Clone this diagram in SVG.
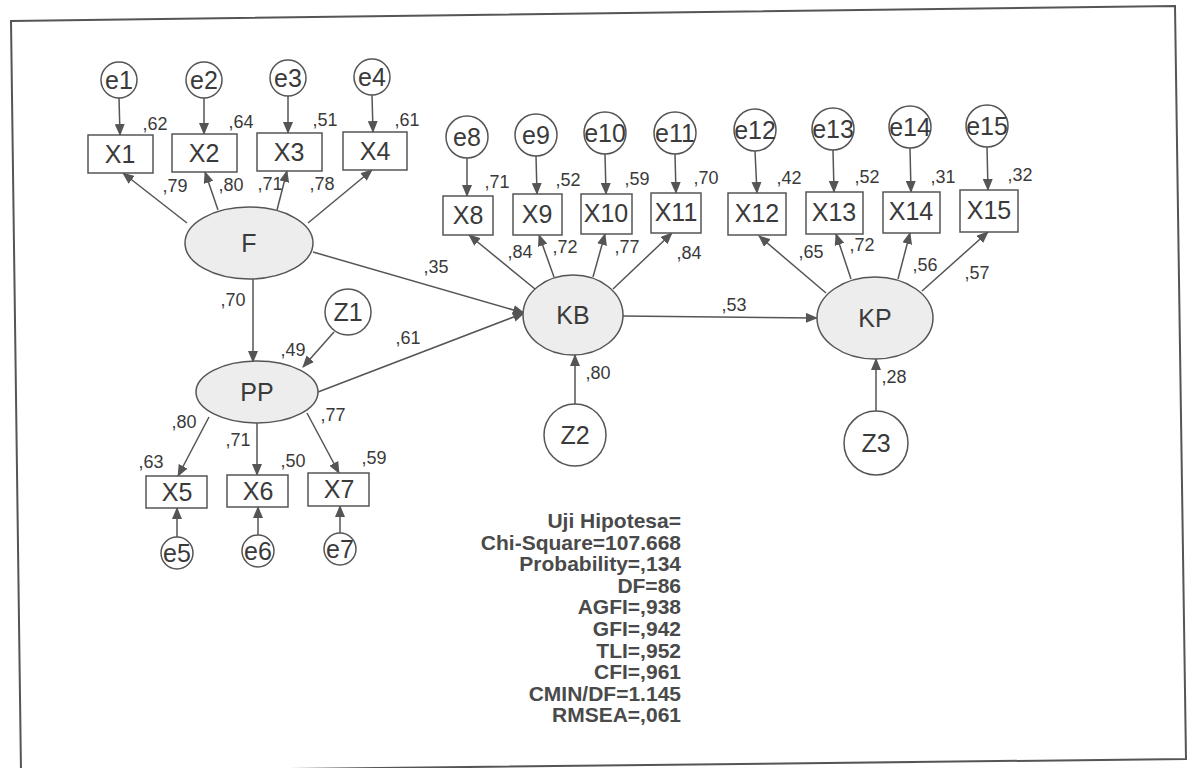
<svg xmlns="http://www.w3.org/2000/svg" width="1187" height="768" viewBox="0 0 1187 768">
<style>
.obs{fill:#fff;stroke:#555;stroke-width:1.5}
.lat{fill:#ededed;stroke:#555;stroke-width:1.5}
.err{fill:#fff;stroke:#555;stroke-width:1.5}
.lbl{font-family:"Liberation Sans",Arial,sans-serif;fill:#3a3a3a;text-anchor:middle}
.big{font-size:25px}
.val{font-family:"Liberation Sans",Arial,sans-serif;font-size:18px;fill:#3a3a3a;text-anchor:middle}
.stat{font-family:"Liberation Sans",Arial,sans-serif;font-size:21px;font-weight:bold;fill:#4a4a4a;text-anchor:end}
.c{stroke:#555;stroke-width:1.5;fill:none;marker-end:url(#ah)}
</style>
<defs>
<marker id="ah" markerUnits="userSpaceOnUse" markerWidth="12" markerHeight="10" refX="11" refY="5" orient="auto">
<path d="M0,0 L12,5 L0,10 Z" fill="#555"/>
</marker>
</defs>
<rect width="1187" height="768" fill="#fff"/>
<polygon points="11,21 1175,6 1186,759 21,772" fill="none" stroke="#555" stroke-width="2"/>

<g id="connectors">
<line class="c" x1="119" y1="98" x2="120" y2="135"/>
<line class="c" x1="204" y1="98" x2="204" y2="134"/>
<line class="c" x1="288" y1="96" x2="288" y2="133"/>
<line class="c" x1="372" y1="95" x2="373" y2="132"/>
<line class="c" x1="187" y1="223" x2="123" y2="173"/>
<line class="c" x1="218" y1="210" x2="205" y2="172"/>
<line class="c" x1="277" y1="210" x2="287" y2="171"/>
<line class="c" x1="308" y1="223" x2="372" y2="170"/>
<line class="c" x1="253" y1="279" x2="253" y2="362"/>
<line class="c" x1="334" y1="332" x2="303" y2="367"/>
<line class="c" x1="313" y1="252" x2="524" y2="313"/>
<line class="c" x1="318" y1="392" x2="524" y2="313"/>
<line class="c" x1="209" y1="417" x2="178" y2="476"/>
<line class="c" x1="257" y1="423" x2="257" y2="475"/>
<line class="c" x1="307" y1="413" x2="339" y2="473"/>
<line class="c" x1="177" y1="537" x2="177" y2="508"/>
<line class="c" x1="258" y1="535" x2="258" y2="507"/>
<line class="c" x1="340" y1="533" x2="340" y2="506"/>
<line class="c" x1="467" y1="158" x2="467" y2="196"/>
<line class="c" x1="536" y1="156" x2="537" y2="194"/>
<line class="c" x1="605" y1="154" x2="606" y2="194"/>
<line class="c" x1="675" y1="154" x2="676" y2="193"/>
<line class="c" x1="535" y1="289" x2="469" y2="235"/>
<line class="c" x1="554" y1="277" x2="539" y2="235"/>
<line class="c" x1="593" y1="277" x2="605" y2="234"/>
<line class="c" x1="613" y1="289" x2="672" y2="233"/>
<line class="c" x1="755" y1="151" x2="757" y2="193"/>
<line class="c" x1="833" y1="150" x2="834" y2="192"/>
<line class="c" x1="910" y1="148" x2="911" y2="192"/>
<line class="c" x1="987" y1="147" x2="988" y2="190"/>
<line class="c" x1="826" y1="293" x2="759" y2="236"/>
<line class="c" x1="851" y1="279" x2="836" y2="234"/>
<line class="c" x1="898" y1="279" x2="910" y2="233"/>
<line class="c" x1="922" y1="291" x2="988" y2="232"/>
<line class="c" x1="623" y1="316" x2="817" y2="318"/>
<line class="c" x1="575" y1="404" x2="575" y2="355"/>
<line class="c" x1="876" y1="411" x2="876" y2="359"/>
</g>

<g id="e1"><circle class="err" cx="119" cy="80" r="18"/><text class="lbl big" x="119" y="89">e1</text></g>
<g id="e2"><circle class="err" cx="204" cy="80" r="18"/><text class="lbl big" x="204" y="89">e2</text></g>
<g id="e3"><circle class="err" cx="288" cy="78" r="18"/><text class="lbl big" x="288" y="87">e3</text></g>
<g id="e4"><circle class="err" cx="372" cy="77" r="18"/><text class="lbl big" x="372" y="86">e4</text></g>

<g id="X1"><rect class="obs" x="88" y="135" width="65" height="38"/><text class="lbl big" x="120" y="163">X1</text></g>
<g id="X2"><rect class="obs" x="172" y="134" width="65" height="38"/><text class="lbl big" x="204" y="162">X2</text></g>
<g id="X3"><rect class="obs" x="257" y="133" width="65" height="38"/><text class="lbl big" x="289" y="161">X3</text></g>
<g id="X4"><rect class="obs" x="343" y="132" width="64" height="38"/><text class="lbl big" x="375" y="160">X4</text></g>

<g id="F"><ellipse class="lat" cx="249" cy="243" rx="64" ry="36"/><text class="lbl big" x="249" y="252">F</text></g>
<g id="PP"><ellipse class="lat" cx="257" cy="392" rx="61" ry="31"/><text class="lbl big" x="257" y="401">PP</text></g>
<g id="Z1"><circle class="err" cx="348" cy="312" r="23"/><text class="lbl big" x="348" y="321">Z1</text></g>

<g id="X5"><rect class="obs" x="146" y="476" width="61" height="32"/><text class="lbl big" x="177" y="501">X5</text></g>
<g id="X6"><rect class="obs" x="227" y="475" width="61" height="32"/><text class="lbl big" x="258" y="500">X6</text></g>
<g id="X7"><rect class="obs" x="308" y="473" width="61" height="33"/><text class="lbl big" x="339" y="498">X7</text></g>
<g id="e5"><circle class="err" cx="177" cy="553" r="16"/><text class="lbl big" x="177" y="562">e5</text></g>
<g id="e6"><circle class="err" cx="258" cy="551" r="16"/><text class="lbl big" x="258" y="560">e6</text></g>
<g id="e7"><circle class="err" cx="340" cy="549" r="16"/><text class="lbl big" x="340" y="558">e7</text></g>

<g id="e8"><circle class="err" cx="467" cy="137" r="21"/><text class="lbl big" x="467" y="146">e8</text></g>
<g id="e9"><circle class="err" cx="536" cy="135" r="21"/><text class="lbl big" x="536" y="144">e9</text></g>
<g id="e10"><circle class="err" cx="605" cy="133" r="21"/><text class="lbl big" x="605" y="142">e10</text></g>
<g id="e11"><circle class="err" cx="675" cy="133" r="21"/><text class="lbl big" x="675" y="142">e11</text></g>
<g id="e12"><circle class="err" cx="755" cy="130" r="21"/><text class="lbl big" x="755" y="139">e12</text></g>
<g id="e13"><circle class="err" cx="833" cy="129" r="21"/><text class="lbl big" x="833" y="138">e13</text></g>
<g id="e14"><circle class="err" cx="910" cy="127" r="21"/><text class="lbl big" x="910" y="136">e14</text></g>
<g id="e15"><circle class="err" cx="987" cy="126" r="21"/><text class="lbl big" x="987" y="135">e15</text></g>

<g id="X8"><rect class="obs" x="443" y="196" width="50" height="39"/><text class="lbl big" x="468" y="224">X8</text></g>
<g id="X9"><rect class="obs" x="513" y="194" width="49" height="41"/><text class="lbl big" x="537" y="223">X9</text></g>
<g id="X10"><rect class="obs" x="581" y="194" width="51" height="40"/><text class="lbl big" x="606" y="222">X10</text></g>
<g id="X11"><rect class="obs" x="651" y="193" width="50" height="40"/><text class="lbl big" x="676" y="221">X11</text></g>
<g id="X12"><rect class="obs" x="728" y="193" width="58" height="42"/><text class="lbl big" x="757" y="222">X12</text></g>
<g id="X13"><rect class="obs" x="806" y="192" width="57" height="42"/><text class="lbl big" x="834" y="221">X13</text></g>
<g id="X14"><rect class="obs" x="883" y="192" width="57" height="41"/><text class="lbl big" x="911" y="220">X14</text></g>
<g id="X15"><rect class="obs" x="960" y="190" width="58" height="42"/><text class="lbl big" x="989" y="219">X15</text></g>

<g id="KB"><ellipse class="lat" cx="573" cy="315" rx="50" ry="40"/><text class="lbl big" x="573" y="324">KB</text></g>
<g id="KP"><ellipse class="lat" cx="875" cy="318" rx="58" ry="41"/><text class="lbl big" x="875" y="327">KP</text></g>
<g id="Z2"><circle class="err" cx="575" cy="435" r="31"/><text class="lbl big" x="575" y="444">Z2</text></g>
<g id="Z3"><circle class="err" cx="876" cy="443" r="32"/><text class="lbl big" x="876" y="452">Z3</text></g>

<g id="values">
<text class="val" x="155" y="130">,62</text>
<text class="val" x="241" y="128">,64</text>
<text class="val" x="325" y="126">,51</text>
<text class="val" x="407" y="126">,61</text>
<text class="val" x="175" y="192">,79</text>
<text class="val" x="231" y="191">,80</text>
<text class="val" x="270" y="190">,71</text>
<text class="val" x="322" y="190">,78</text>
<text class="val" x="233" y="306">,70</text>
<text class="val" x="293" y="356">,49</text>
<text class="val" x="408" y="344">,61</text>
<text class="val" x="436" y="273">,35</text>
<text class="val" x="184" y="428">,80</text>
<text class="val" x="238" y="446">,71</text>
<text class="val" x="333" y="421">,77</text>
<text class="val" x="151" y="468">,63</text>
<text class="val" x="293" y="467">,50</text>
<text class="val" x="374" y="464">,59</text>
<text class="val" x="497" y="188">,71</text>
<text class="val" x="568" y="186">,52</text>
<text class="val" x="637" y="185">,59</text>
<text class="val" x="706" y="184">,70</text>
<text class="val" x="520" y="258">,84</text>
<text class="val" x="565" y="253">,72</text>
<text class="val" x="627" y="253">,77</text>
<text class="val" x="689" y="259">,84</text>
<text class="val" x="789" y="184">,42</text>
<text class="val" x="867" y="183">,52</text>
<text class="val" x="943" y="183">,31</text>
<text class="val" x="1020" y="181">,32</text>
<text class="val" x="811" y="258">,65</text>
<text class="val" x="862" y="251">,72</text>
<text class="val" x="925" y="271">,56</text>
<text class="val" x="977" y="279">,57</text>
<text class="val" x="734" y="311">,53</text>
<text class="val" x="598" y="379">,80</text>
<text class="val" x="894" y="383">,28</text>
</g>

<g id="stats">
<text class="stat" x="681" y="528">Uji Hipotesa=</text>
<text class="stat" x="681" y="549.6">Chi-Square=107.668</text>
<text class="stat" x="681" y="571.2">Probability=,134</text>
<text class="stat" x="681" y="592.8">DF=86</text>
<text class="stat" x="681" y="614.4">AGFI=,938</text>
<text class="stat" x="681" y="636">GFI=,942</text>
<text class="stat" x="681" y="657.6">TLI=,952</text>
<text class="stat" x="681" y="679.2">CFI=,961</text>
<text class="stat" x="681" y="700.8">CMIN/DF=1.145</text>
<text class="stat" x="681" y="722.4">RMSEA=,061</text>
</g>
</svg>
